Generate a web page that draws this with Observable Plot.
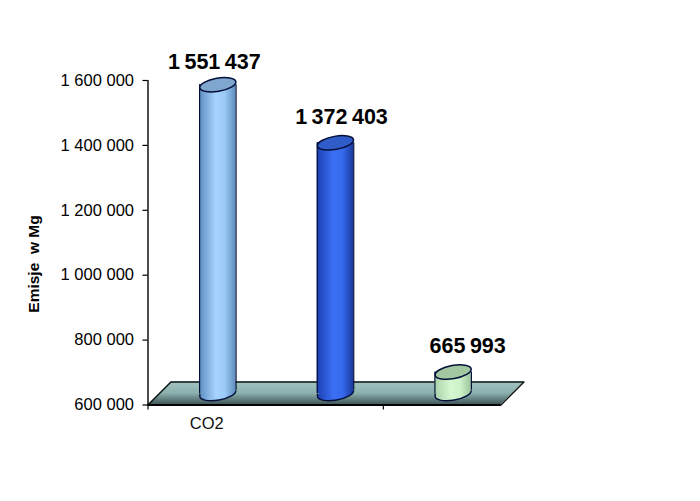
<!DOCTYPE html>
<html>
<head>
<meta charset="utf-8">
<script src="https://cdn.jsdelivr.net/npm/d3@7"></script>
<script src="https://cdn.jsdelivr.net/npm/@observablehq/plot@0.6"></script>
<style>
html,body{margin:0;padding:0;background:#fff}
svg{display:block}
.value-label text{word-spacing:-1.5px}
</style>
</head>
<body>
<div id="chart"></div>
<script>
// Data
const seriesIds = ["a", "b", "c"];
const slots = [0.5, 1.5, 2.5];
const values = [1551437, 1372403, 665993];
const valueLabels = ["1 551 437", "1 372 403", "665 993"];
const categoryLabels = ["CO2"];
const yTicks = [600000, 800000, 1000000, 1200000, 1400000, 1600000];
const yTickLabels = ["600 000", "800 000", "1 000 000", "1 200 000", "1 400 000", "1 600 000"];

// Styles
const sideStops = [
  ["#5d8dc0", "#a6d3ff", "#9ccbf8", "#5f8cbc"],
  ["#1c3fb0", "#3b70f5", "#356aee", "#1a3aa0"],
  ["#a9d3a9", "#d6f7d2", "#cdf1c8", "#9cc69c"]
];
const capFill = ["#7fa6cf", "#2f5cc8", "#a3c7a0"];
const labelDx = [7.5, 17, 25.5];
const labelDy = [-34.5, -37.5, -37];

const base = 600000;
const halfWidth = 0.155;     // cylinder half width, x units
const depthDx = 11, depthDy = -11.5; // 3D offset of the cylinders, px
const floorX = 0.195, floorY = 670800;  // depth of the floor, data units
const rise = 10000;          // tilt of the base ellipse at its right end, y units

const rows = seriesIds.map((id, i) => ({id, x: slots[i], value: values[i], label: valueLabels[i]}));
const floorArea = [
  {x: 0, y1: base, y2: base},
  {x: floorX, y1: base, y2: floorY},
  {x: 3, y1: base, y2: floorY},
  {x: 3 + floorX, y1: floorY, y2: floorY}
];
const floorEdge = [
  {x: 0, y: base}, {x: 3, y: base}, {x: 3 + floorX, y: floorY}, {x: floorX, y: floorY}, {x: 0, y: base}
];

const K = 0.5523, T = -10 * Math.PI / 180;
const rotate = (u, v) => [u * Math.cos(T) - v * Math.sin(T), u * Math.sin(T) + v * Math.cos(T)];
const ellipse = {
  draw(ctx, size) {
    const a = Math.sqrt(size / Math.PI), b = a * 0.36, p = rotate;
    ctx.moveTo(...p(a, 0));
    ctx.bezierCurveTo(...p(a, K * b), ...p(K * a, b), ...p(0, b));
    ctx.bezierCurveTo(...p(-K * a, b), ...p(-a, K * b), ...p(-a, 0));
    ctx.bezierCurveTo(...p(-a, -K * b), ...p(-K * a, -b), ...p(0, -b));
    ctx.bezierCurveTo(...p(K * a, -b), ...p(a, -K * b), ...p(a, 0));
    ctx.closePath();
  }
};
const lowerArc = {
  draw(ctx, size) {
    const a = Math.sqrt(size / Math.PI), b = a * 0.36, p = rotate;
    ctx.moveTo(p(-a, 0)[0], 0);
    ctx.lineTo(...p(-a, 0));
    ctx.bezierCurveTo(...p(-a, K * b), ...p(-K * a, b), ...p(0, b));
    ctx.bezierCurveTo(...p(K * a, b), ...p(a, K * b), ...p(a, 0));
  }
};

function defs() {
  const d = d3.create("svg:defs");
  seriesIds.forEach((id, i) => {
    const g = d.append("linearGradient").attr("id", "side-" + id);
    [0, 0.45, 0.7, 1].forEach((o, j) => g.append("stop").attr("offset", o).attr("stop-color", sideStops[i][j]));
  });
  const f = d.append("linearGradient").attr("id", "floor").attr("x1", 0).attr("x2", 0).attr("y1", 0).attr("y2", 1);
  f.append("stop").attr("offset", 0).attr("stop-color", "#a3c4c2");
  f.append("stop").attr("offset", 0.5).attr("stop-color", "#8bb0ad");
  f.append("stop").attr("offset", 1).attr("stop-color", "#3f5557");
  return d.node();
}

const ink = "#04103a";
const offset = {dx: depthDx, dy: depthDy};
const cylinders = rows.flatMap((r, i) => [
  Plot.dot([r], {x: "x", y: () => base, r: 18.3, symbol: ellipse, fill: `url(#side-${r.id})`, stroke: "none", ...offset}),
  Plot.rect([r], {x1: d => d.x - halfWidth, x2: d => d.x + halfWidth, y1: () => base, y2: "value", fill: `url(#side-${r.id})`, ...offset}),
  Plot.ruleX([r], {x: d => d.x - halfWidth, y1: () => base, y2: "value", stroke: ink, strokeWidth: 1.2, ...offset}),
  Plot.ruleX([r], {x: d => d.x + halfWidth, y1: () => base + rise, y2: "value", stroke: ink, strokeWidth: 1.2, ...offset}),
  Plot.dot([r], {x: "x", y: () => base, r: 18.3, symbol: lowerArc, fill: "none", stroke: ink, strokeWidth: 1.4, ...offset}),
  Plot.dot([r], {x: "x", y: "value", r: 18.3, symbol: ellipse, fill: capFill[i], stroke: ink, strokeWidth: 1.5, ...offset}),
  Plot.text([r], {x: "x", y: "value", text: "label", dx: labelDx[i], dy: labelDy[i], fontSize: 21.5, fontWeight: "bold", fill: "#000", className: "value-label"})
]);

const chart = Plot.plot({
  width: 700,
  height: 501,
  marginLeft: 147.5,
  marginRight: 199.5,
  marginTop: 80,
  marginBottom: 96.5,
  style: {fontFamily: "'Liberation Sans', Arial, sans-serif", background: "#fff", color: "#000"},
  x: {domain: [0, 3], label: null},
  y: {domain: [600000, 1600000], label: null},
  marks: [
    defs,
    Plot.area(floorArea, {x1: "x", y1: "y1", y2: "y2", fill: "url(#floor)"}),
    Plot.line(floorEdge, {x: "x", y: "y", stroke: "#0c1414", strokeWidth: 1.4}),
    Plot.ruleX([0], {y1: 600000, y2: 1600000, stroke: "#000", strokeWidth: 1.4}),
    Plot.ruleY([600000], {x1: 0, x2: 3, stroke: "#000", strokeWidth: 2.2}),
    Plot.axisY({ticks: yTicks, tickFormat: d => yTickLabels[yTicks.indexOf(d)], tickSize: 5, tickPadding: 9, fontSize: 16.5, stroke: "#000", strokeWidth: 1.2, label: null}),
    Plot.axisX({ticks: [0, 2], tickFormat: () => "", tickSize: 5, stroke: "#000", strokeWidth: 1.2, label: null}),
    Plot.text(categoryLabels, {x: (d, i) => slots[i], y: () => 600000, text: d => d, dy: 19, fontSize: 16.5, fill: "#111"}),
    Plot.text(["Emisje  w Mg"], {
      frameAnchor: "left", textAnchor: "middle", y: () => 1034500, text: d => d, rotate: -90, dx: -113.5,
      fontSize: 15.5, fontWeight: "bold", fill: "#000"
    }),
    ...cylinders
  ]
});
document.getElementById("chart").appendChild(chart);
</script>
</body>
</html>
